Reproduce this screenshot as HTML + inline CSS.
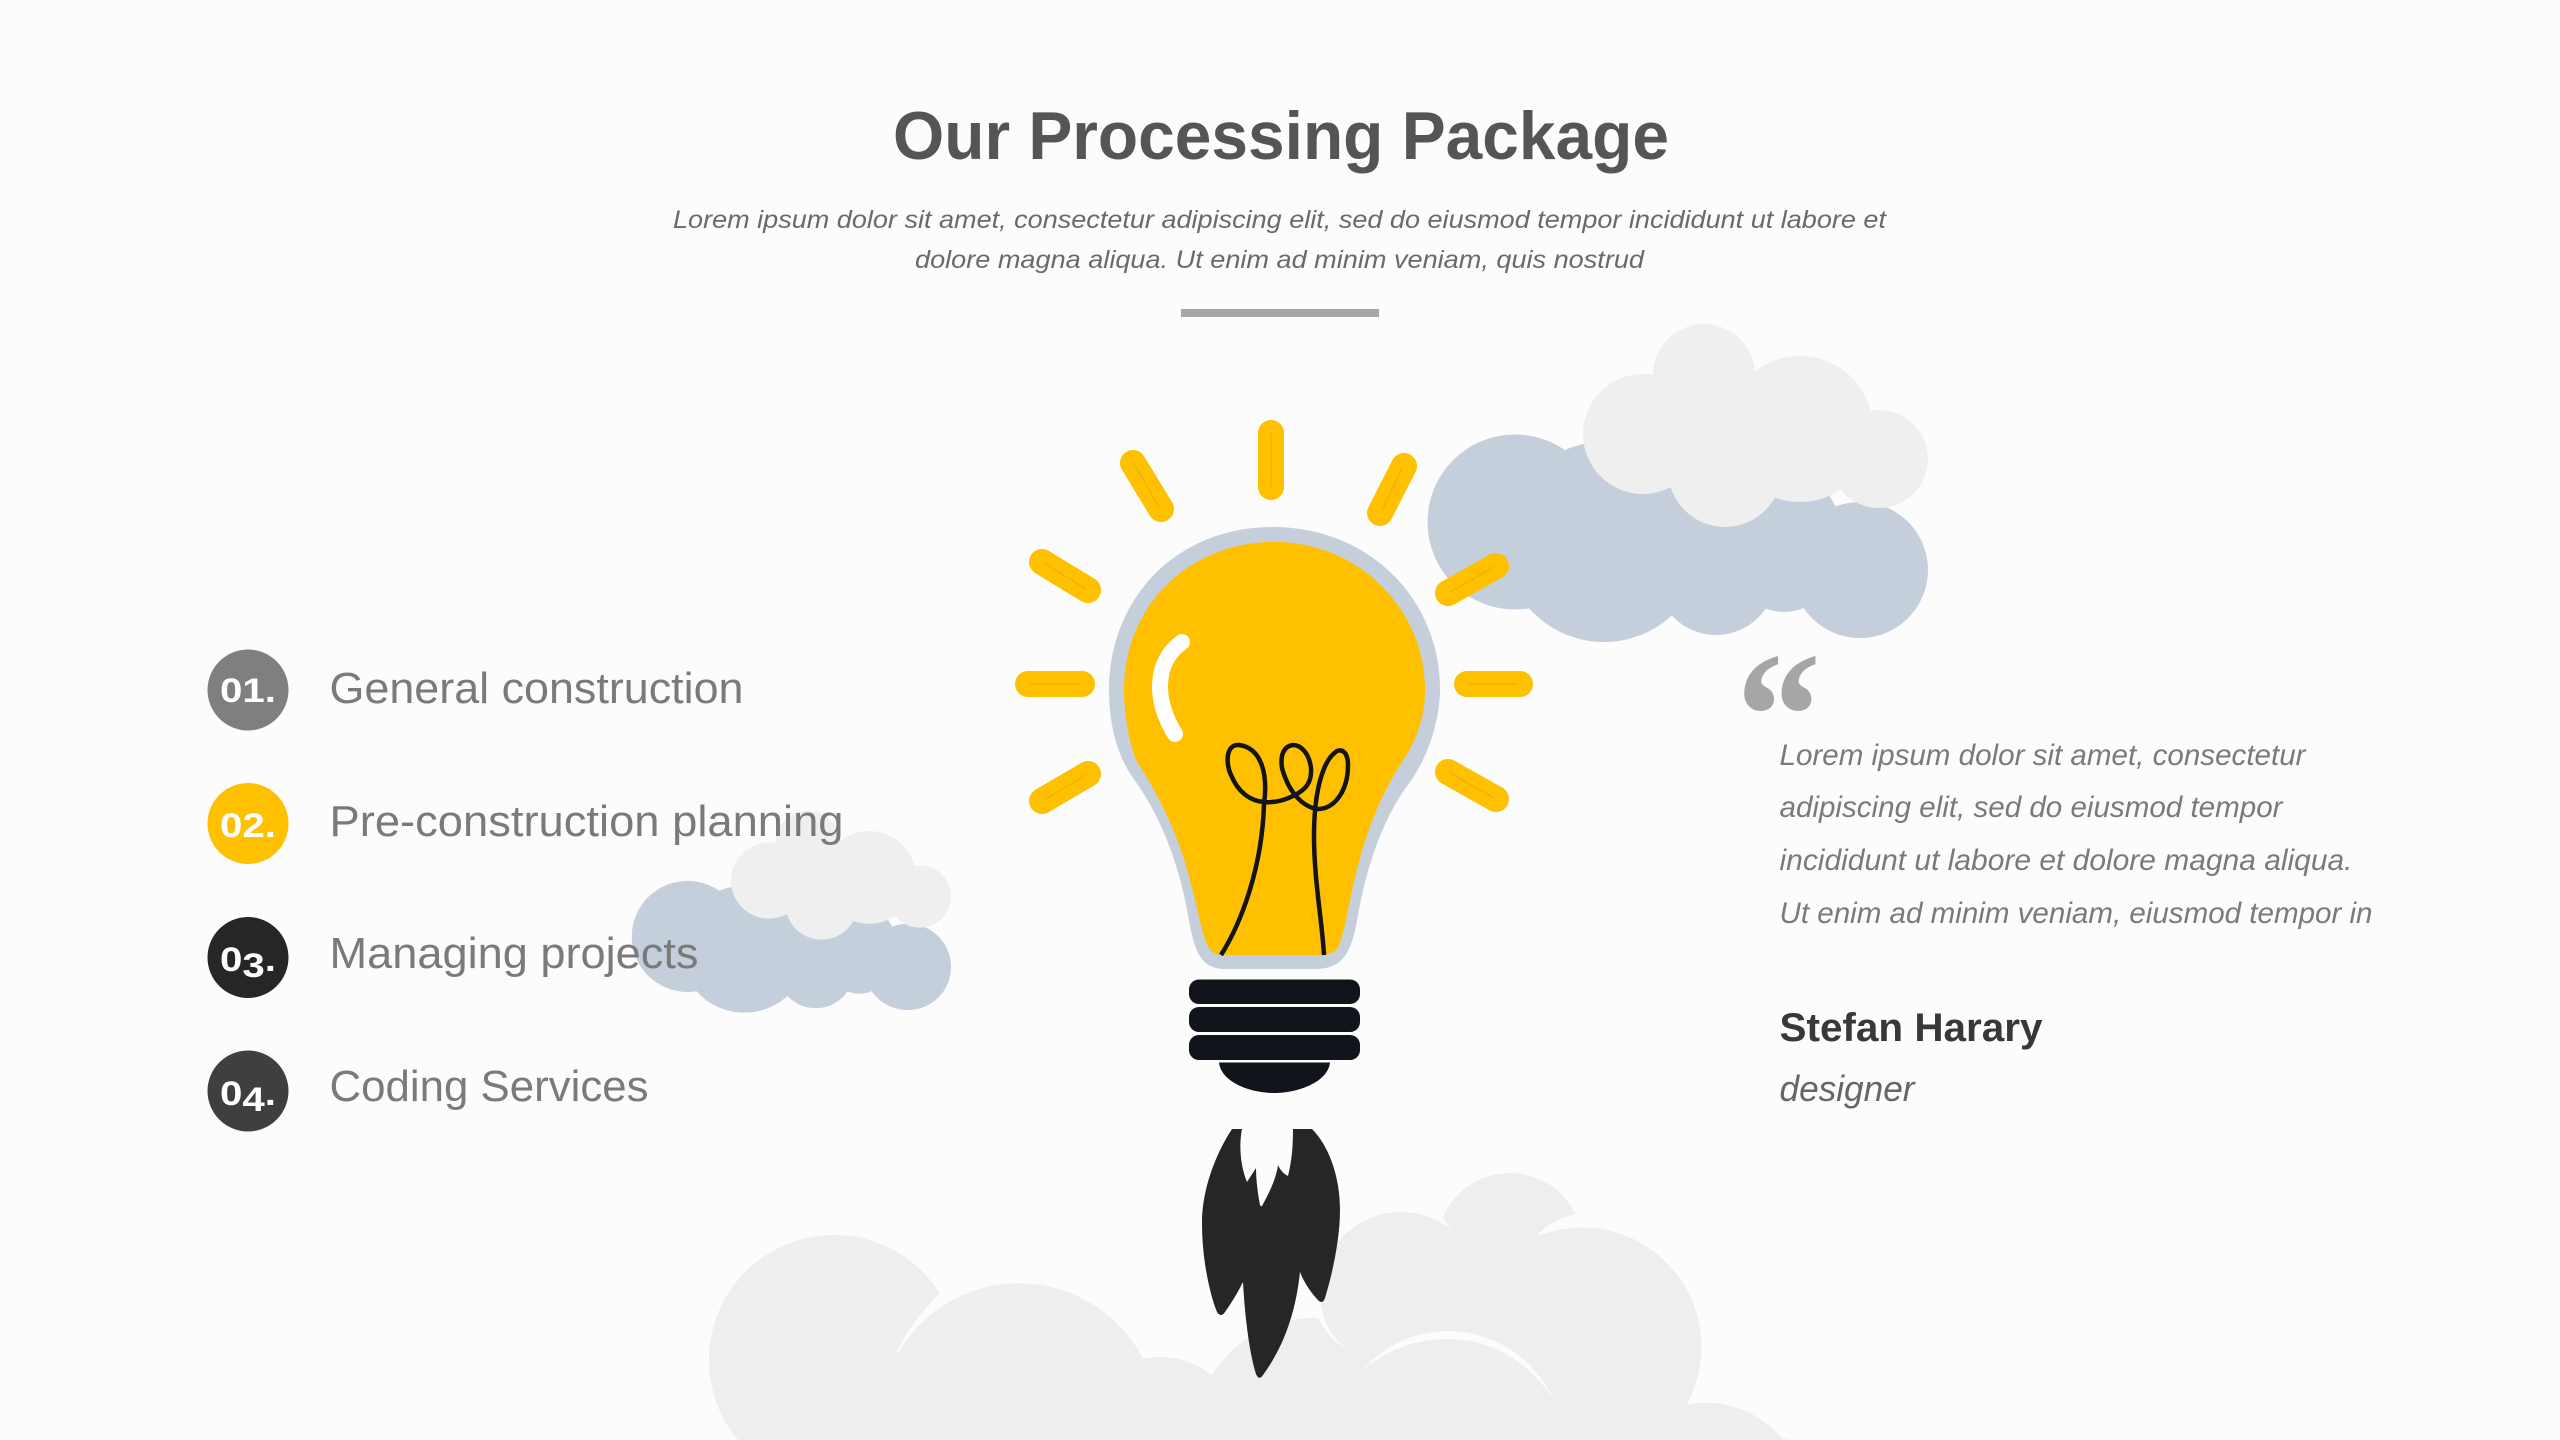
<!DOCTYPE html>
<html lang="en">
<head>
<meta charset="utf-8">
<title>Our Processing Package</title>
<style>
html,body{margin:0;padding:0;background:#fcfcfc;width:2560px;height:1440px;overflow:hidden}
svg{display:block}
text{font-family:"Liberation Sans",sans-serif}
</style>
</head>
<body>
<svg width="2560" height="1440" viewBox="0 0 2560 1440" xmlns="http://www.w3.org/2000/svg">
<rect width="2560" height="1440" fill="#fcfcfc"/>

<!-- bottom cloud -->
<g fill="#eeeeee">
  <path d="M738 1440 A125 125 0 1 1 930 1440Z"/>
  <path d="M941 1292 Q912 1320 896 1353 L1000 1350 L1000 1270 L941 1270Z" fill="#fcfcfc"/>
  <path d="M880 1440 A140 140 0 1 1 1158 1440Z"/>
  <path d="M1077 1440 A83 83 0 0 1 1243 1440Z"/>
  <path d="M1193 1440 A122 122 0 1 1 1437 1440Z"/>
  <circle cx="1510" cy="1246" r="73"/>
  <path d="M1442 1217 Q1458 1238 1466 1257 L1400 1260 L1400 1205Z" fill="#fcfcfc"/>
  <path d="M1562 1218 Q1548 1224 1537 1235 L1590 1240 L1590 1210Z" fill="#fcfcfc"/>
  <path d="M1507 1440 A119.5 119.5 0 1 1 1657 1440Z"/>
  <path d="M1627 1440 A100 100 0 0 1 1783 1440Z"/>
  <path d="M1317 1315 Q1328 1340 1350 1350 L1340 1290 L1317 1290Z" fill="#fcfcfc"/>
  <circle cx="1401" cy="1293" r="81"/>
  <path d="M760 1440 L860 1400 L1019 1380 L1200 1400 L1350 1360 L1400 1290 L1500 1290 L1650 1340 L1690 1420 L1790 1440Z"/>
  <path d="M1320 1307 C1325 1323 1332 1340 1350 1350 C1336 1345 1326 1333 1317 1315Z" fill="#fcfcfc"/>
  <path d="M1359 1373 C1385 1345 1415 1331 1448 1331 C1495 1331 1535 1360 1553 1398 C1530 1365 1495 1339 1448 1339 C1415 1339 1385 1350 1359 1373Z" fill="#fcfcfc"/>
</g>

<!-- flame -->
<path fill="#262626" d="M1232 1129 C1215 1155 1202 1190 1202 1223 C1202 1260 1210 1295 1217 1312 Q1221 1318 1225 1312 Q1235 1298 1243 1282 C1245 1320 1250 1355 1256 1374 Q1259 1381 1263 1375 C1285 1345 1296 1310 1300 1272 C1305 1285 1313 1295 1319 1301 Q1323 1304 1325 1298 C1332 1275 1340 1240 1340 1210 C1340 1175 1328 1145 1312 1129 L1293 1129 C1293 1145 1292 1160 1288 1176 C1284 1174 1280 1170 1278 1165 C1276 1180 1268 1195 1262 1206 Q1261 1207 1260 1205 C1258 1195 1256 1180 1256 1168 L1247 1182 C1242 1170 1238 1150 1242 1129Z"/>

<!-- top right cloud -->
<g fill="#c5cfdc">
  <circle cx="1515" cy="522" r="87.5"/>
  <circle cx="1604" cy="542" r="100"/>
  <circle cx="1716" cy="575" r="60"/>
  <circle cx="1784" cy="560" r="52"/>
  <circle cx="1860" cy="570" r="68"/>
  <path d="M1570 453 L1584 449 L1640 445 L1800 470 L1829 495 L1836 507 L1850 540 L1800 590 L1600 590Z"/>
</g>
<g fill="#efefef">
  <circle cx="1643" cy="434" r="60"/>
  <circle cx="1704" cy="375" r="51"/>
  <circle cx="1800" cy="429" r="73"/>
  <circle cx="1879" cy="459" r="49"/>
  <circle cx="1725" cy="470" r="57"/>
  <path d="M1660 400 L1760 380 L1850 440 L1780 490 L1700 490Z"/>
</g>

<!-- small left cloud -->
<g transform="translate(-279 605) scale(.638 .635)">
  <g fill="#c5cfdc">
    <circle cx="1515" cy="522" r="87.5"/>
    <circle cx="1604" cy="542" r="100"/>
    <circle cx="1716" cy="575" r="60"/>
    <circle cx="1784" cy="560" r="52"/>
    <circle cx="1860" cy="570" r="68"/>
    <path d="M1570 453 L1584 449 L1640 445 L1800 470 L1829 495 L1836 507 L1850 540 L1800 590 L1600 590Z"/>
  </g>
  <g fill="#efefef">
    <circle cx="1643" cy="434" r="60"/>
    <circle cx="1704" cy="375" r="51"/>
    <circle cx="1800" cy="429" r="73"/>
    <circle cx="1879" cy="459" r="49"/>
    <circle cx="1725" cy="470" r="57"/>
    <path d="M1660 400 L1760 380 L1850 440 L1780 490 L1700 490Z"/>
  </g>
</g>

<!-- rays -->
<g stroke="#ffc000" stroke-width="26" stroke-linecap="round" fill="none">
  <line x1="1271" y1="433" x2="1271" y2="487"/>
  <line x1="1133" y1="463" x2="1161" y2="509"/>
  <line x1="1404" y1="466" x2="1380" y2="513"/>
  <line x1="1042" y1="562" x2="1088" y2="590"/>
  <line x1="1496" y1="566" x2="1448" y2="593"/>
  <line x1="1028" y1="684" x2="1082" y2="684"/>
  <line x1="1467" y1="684" x2="1520" y2="684"/>
  <line x1="1042" y1="801" x2="1088" y2="774"/>
  <line x1="1448" y1="772" x2="1496" y2="799"/>
</g>
<g stroke="#f2b100" stroke-width="1.5" fill="none">
  <line x1="1271" y1="433" x2="1271" y2="487"/>
  <line x1="1135" y1="465" x2="1159" y2="507"/>
  <line x1="1402" y1="468" x2="1382" y2="511"/>
  <line x1="1044" y1="563" x2="1086" y2="589"/>
  <line x1="1494" y1="567" x2="1450" y2="592"/>
  <line x1="1030" y1="684" x2="1080" y2="684"/>
  <line x1="1469" y1="684" x2="1518" y2="684"/>
  <line x1="1044" y1="800" x2="1086" y2="775"/>
  <line x1="1450" y1="773" x2="1494" y2="798"/>
</g>

<!-- bulb -->
<path fill="#c5cfdc" d="M1273 527 C1370 527 1440 600 1440 689 C1440 720 1428 757 1410 782 C1385 815 1368 860 1358 915 C1352 950 1345 969 1315 969 L1225 969 C1200 969 1194 950 1188 915 C1178 860 1160 815 1133 778 C1115 752 1109 720 1109 689 C1109 600 1175 527 1273 527Z"/>
<path fill="#ffc000" d="M1274 542 C1360 542 1425 610 1425 690 C1425 718 1416 742 1400 765 C1378 800 1362 840 1350 900 C1345 925 1342 940 1338 947 C1335 953 1328 955 1320 955 L1225 955 C1215 955 1210 952 1206 942 C1200 925 1197 905 1190 880 C1180 840 1162 800 1139 765 C1130 750 1124 715 1124 690 C1124 605 1190 542 1274 542Z"/>
<path d="M1182 642 C1154 662 1154 700 1175 734" fill="none" stroke="#fff" stroke-width="16" stroke-linecap="round"/>

<!-- filament -->
<g fill="none" stroke="#12141a" stroke-width="4.5" stroke-linecap="butt">
  <path d="M1221 955 C1240 925 1262 870 1264 804 C1268 775 1262 748 1239 745 C1225 744 1226 765 1231 775 C1238 792 1250 801 1264 802 C1275 803 1285 800 1293 796 C1306 790 1312 782 1311 768 C1309 752 1300 745 1293 745 C1284 746 1280 755 1282 768 C1288 790 1300 805 1316 809 C1335 810 1348 790 1348 765 C1348 752 1342 749 1337 751 C1320 762 1314 800 1314 836 C1314 880 1322 920 1324 955"/>
</g>

<!-- base -->
<g fill="#11141b">
  <rect x="1189" y="979.5" width="171" height="24.5" rx="10"/>
  <rect x="1189" y="1007" width="171" height="25" rx="10"/>
  <rect x="1189" y="1035" width="171" height="25" rx="10"/>
  <path d="M1219 1062.5 L1330 1062.5 C1328 1082 1298 1093 1274 1093 C1250 1093 1221 1082 1219 1062.5Z"/>
</g>

<!-- header -->
<text x="893" y="159" font-size="68" font-weight="700" fill="#555555" textLength="776" lengthAdjust="spacingAndGlyphs">Our Processing Package</text>
<g font-size="25" font-style="italic" fill="#6a6a6a">
  <text x="673" y="228" textLength="1213" lengthAdjust="spacingAndGlyphs">Lorem ipsum dolor sit amet, consectetur adipiscing elit, sed do eiusmod tempor incididunt ut labore et</text>
  <text x="915" y="268" textLength="729" lengthAdjust="spacingAndGlyphs">dolore magna aliqua. Ut enim ad minim veniam, quis nostrud</text>
</g>
<rect x="1181" y="309" width="198" height="8" fill="#a6a6a6"/>

<!-- list -->
<circle cx="248" cy="690" r="40.5" fill="#7f7f7f"/>
<circle cx="248" cy="823.5" r="40.5" fill="#ffc000"/>
<circle cx="248" cy="957.5" r="40.5" fill="#262626"/>
<circle cx="248" cy="1091" r="40.5" fill="#3f3f3f"/>
<g font-size="34" font-weight="700" fill="#ffffff">
  <text x="220" y="702" textLength="56" lengthAdjust="spacingAndGlyphs">01.</text>
  <text x="220" y="837" textLength="56" lengthAdjust="spacingAndGlyphs">02.</text>
  <text x="220" y="971" textLength="56" lengthAdjust="spacingAndGlyphs">0<tspan dy="6">3</tspan><tspan dy="-6">.</tspan></text>
  <text x="220" y="1105" textLength="56" lengthAdjust="spacingAndGlyphs">0<tspan dy="6">4</tspan><tspan dy="-6">.</tspan></text>
</g>
<g font-size="44" fill="#7a7a7a">
  <text x="329.5" y="703" textLength="414" lengthAdjust="spacingAndGlyphs">General construction</text>
  <text x="329.5" y="836" textLength="514" lengthAdjust="spacingAndGlyphs">Pre-construction planning</text>
  <text x="329.5" y="968" textLength="369" lengthAdjust="spacingAndGlyphs">Managing projects</text>
  <text x="329.5" y="1101" textLength="319" lengthAdjust="spacingAndGlyphs">Coding Services</text>
</g>

<!-- quote -->
<text transform="translate(1736 777) scale(1 1.07)" style="font-family:'Liberation Serif',serif" font-size="170" font-weight="700" fill="#a6a6a6">“</text>
<g font-size="30" font-style="italic" fill="#7a7a7a">
  <text x="1779.5" y="765" textLength="526" lengthAdjust="spacingAndGlyphs">Lorem ipsum dolor sit amet, consectetur</text>
  <text x="1779.5" y="817" textLength="503" lengthAdjust="spacingAndGlyphs">adipiscing elit, sed do eiusmod tempor</text>
  <text x="1779.5" y="870" textLength="573" lengthAdjust="spacingAndGlyphs">incididunt ut labore et dolore magna aliqua.</text>
  <text x="1779.5" y="923" textLength="593" lengthAdjust="spacingAndGlyphs">Ut enim ad minim veniam, eiusmod tempor in</text>
</g>
<text x="1779.5" y="1041" font-size="40" font-weight="700" fill="#383838" textLength="263" lengthAdjust="spacingAndGlyphs">Stefan Harary</text>
<text x="1779.5" y="1101" font-size="36" font-style="italic" fill="#666666" textLength="135" lengthAdjust="spacingAndGlyphs">designer</text>
</svg>
</body>
</html>
